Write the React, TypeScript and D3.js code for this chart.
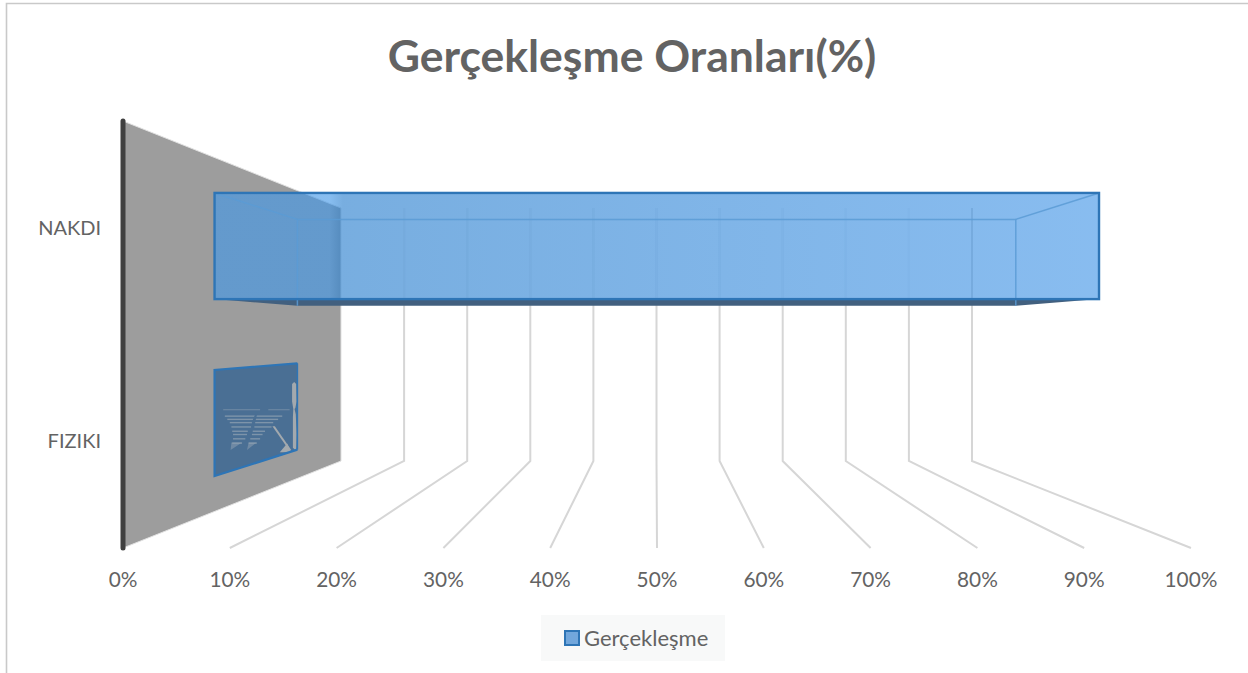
import React from "react";
import * as d3 from "d3";

const title = "Gerçekleşme Oranları(%)";
const seriesName = "Gerçekleşme";
const categories = ["NAKDI", "FIZIKI"];
const values = [100, 0];
const ticks = [0, 10, 20, 30, 40, 50, 60, 70, 80, 90, 100];

// Projection of the 3D box: value, depth and height each go through a d3 scale.
const xFront = d3.scaleLinear().domain([0, 100]).range([123, 1191]);
const xBack = d3.scaleLinear().domain([0, 100]).range([341, 972]);
const yTop = d3.scaleLinear().domain([0, 1]).range([121, 208]);
const yBottom = d3.scaleLinear().domain([0, 1]).range([548, 461]);
const band = d3.scaleBand<string>().domain(categories).range([0, 1]).paddingInner(0.4).paddingOuter(0.2);
const D_FRONT = 0.42;
const D_BACK = 0.8;

const X = (v: number, d: number) => xFront(v) + (xBack(v) - xFront(v)) * d;
const Y = (h: number, d: number) => yTop(d) + (yBottom(d) - yTop(d)) * h;
const P = (v: number, h: number, d: number): [number, number] => [X(v, d), Y(h, d)];
const poly = d3.line();
const closed = (pts: [number, number][]) => poly(pts) + "Z";

// Light glitch marks inside the FIZIKI side face, as fractions of that face.
const gU = d3.scaleLinear().domain([0, 1]).range([215, 297]);
const gV = d3.scaleLinear().domain([0, 1]).range([369, 477]);
const stripeV = [0.37, 0.43, 0.46, 0.49, 0.53, 0.57, 0.6, 0.64, 0.68];
const stripeA0 = [0.1, 0.12, 0.15, 0.18, 0.2, 0.21, 0.22, 0.22, 0.21];
const stripeA1 = [0.55, 0.82, 0.77, 0.45, 0.44, 0.4, 0.39, 0.37, 0.33];
const stripeB0 = [0.65, 0.82, 0.77, 0.49, 0.48, 0.46, 0.45, 0.43, 0.41];
const stripeB1 = [0.91, 0.82, 0.77, 0.71, 0.69, 0.61, 0.58, 0.55, 0.51];
const sliverA: [number, number][] = [[0.2, 0.68], [0.33, 0.68], [0.19, 0.75]];
const sliverB: [number, number][] = [[0.41, 0.68], [0.51, 0.68], [0.39, 0.75]];
const splitA: [number, number][] = [[0.45, 0.49], [0.49, 0.49], [0.52, 0.4], [0.5, 0.4]];
const diag: [number, number][] = [[0.7, 0.53], [0.73, 0.53], [0.93, 0.75], [0.91, 0.76]];
const wedge: [number, number][] = [[0.79, 0.77], [0.88, 0.69], [0.93, 0.77]];
const pill: [number, number][] = [[0.94, 0.14], [0.965, 0.12], [0.99, 0.14], [0.995, 0.3], [0.98, 0.36], [0.97, 0.37], [0.985, 0.42], [0.995, 0.6], [0.99, 0.76], [0.95, 0.73], [0.95, 0.45], [0.955, 0.37], [0.94, 0.3]];
const gP = (pts: [number, number][]) => closed(pts.map(([u, v]) => [gU(u), gV(v)] as [number, number]));

const FONT = "Lato, 'Open Sans', sans-serif";
const TEXT = "#636363";
const gridInBar = d3.interpolateRgb("rgb(120,173,223)", "rgb(136,188,240)");

export default function App() {
  return (
    <svg width={1248} height={673} style={{ position: "absolute", left: 0, top: 0, background: "#fff" }} fontFamily={FONT}>
      <defs>
        <linearGradient id="barFill" x1="0" x2="1" y1="0" y2="0">
          <stop offset="0" stopColor="rgb(67,152,232)" />
          <stop offset="0.13" stopColor="rgb(67,152,232)" />
          <stop offset="0.145" stopColor="rgb(42,127,206)" />
          <stop offset="1" stopColor="rgb(68,150,231)" />
        </linearGradient>
      </defs>
      <path d="M6.5,673V3.5H1248" fill="none" stroke="#c9c9c9" strokeWidth={1.6} />
      <text x={632} y={72} textAnchor="middle" fontSize={44.5} fontWeight={700} fill={TEXT}>{title}</text>

      {/* gridlines: back wall and floor */}
      {ticks.slice(1).map((t) => (
        <path key={t} d={poly([P(t, 0, 1), P(t, 1, 1), P(t, 1, 0)]) as string} fill="none" stroke="#d6d6d6" strokeWidth={2} />
      ))}

      {/* side wall */}
      <path d={closed([P(0, 0, 0), P(0, 0, 1), P(0, 1, 1), P(0, 1, 0)])} fill="#9d9d9d" stroke="#e2e2e2" strokeWidth={1} />
      <line x1={xFront(0)} x2={xFront(0)} y1={yTop(0)} y2={yBottom(0)} stroke="#404040" strokeWidth={5} strokeLinecap="round" />

      {/* bars */}
      {categories.map((c, i) => {
        const h0 = band(c)!;
        const h1 = h0 + band.bandwidth();
        const v = values[i];
        if (v === 0) {
          return (
            <g key={c}>
              <path d={closed([P(0, h0, D_FRONT), P(0, h0, D_BACK), P(0, h1, D_BACK), P(0, h1, D_FRONT)])} fill="#4a6f94" />
              <g fill="#93a4b3" stroke="none">
                {stripeV.map((sv, k) => (
                  <g key={k}>
                    <rect x={gU(stripeA0[k])} width={gU(stripeA1[k]) - gU(stripeA0[k])} y={gV(sv)} height={1.4} opacity={k === 0 ? 0.4 : 0.7} />
                    {stripeB1[k] > stripeB0[k] && (
                      <rect x={gU(stripeB0[k])} width={gU(stripeB1[k]) - gU(stripeB0[k])} y={gV(sv)} height={1.4} opacity={k === 0 ? 0.4 : 0.7} />
                    )}
                  </g>
                ))}
                <path d={gP(sliverA)} opacity={0.5} />
                <path d={gP(sliverB)} opacity={0.5} />
                <path d={gP(splitA)} fill="#4a6f94" />
                <path d={gP(diag)} fill="#a3a9ae" />
                <path d={gP(wedge)} fill="#a3a9ae" />
                <path d={gP(pill)} fill="#a3a9ae" />
              </g>
              <path d={poly([P(0, h1, D_BACK), P(0, h1, D_FRONT), P(0, h0, D_FRONT), P(0, h0, D_BACK)]) as string} fill="none" stroke="#2e75b6" strokeWidth={2.2} />
              <path d={poly([P(0, h0, D_BACK), P(0, h1, D_BACK)]) as string} fill="none" stroke="#2e75b6" strokeWidth={1.5} />
            </g>
          );
        }
        return (
          <g key={c}>
            <path d={closed([P(0, h1, D_FRONT), P(0, h1, D_BACK), P(v, h1, D_BACK), P(v, h1, D_FRONT)])} fill="#42607f" />
            <rect x={X(0, D_FRONT)} y={Y(h0, D_FRONT)} width={X(v, D_FRONT) - X(0, D_FRONT)} height={Y(h1, D_FRONT) - Y(h0, D_FRONT)} fill="url(#barFill)" fillOpacity={0.635} />
            {ticks.slice(1, -1).map((t) => (
              <line key={t} x1={xBack(t)} x2={xBack(t)} y1={yTop(1)} y2={Y(h1, D_FRONT) - 1} stroke={gridInBar(t / 100)} strokeWidth={2.2} strokeOpacity={0.7} />
            ))}
            <path d={poly([P(0, h1, D_BACK), P(0, h0, D_BACK), P(v, h0, D_BACK), P(v, h1, D_BACK)]) as string} fill="none" stroke="#5b9bd5" strokeOpacity={0.85} strokeWidth={1.5} />
            {[0, v].map((e) => (
              <line key={e} x1={X(e, D_FRONT)} y1={Y(h0, D_FRONT)} x2={X(e, D_BACK)} y2={Y(h0, D_BACK)} stroke="#5b9bd5" strokeOpacity={0.85} strokeWidth={1.5} />
            ))}
            <rect x={X(0, D_FRONT)} y={Y(h0, D_FRONT)} width={X(v, D_FRONT) - X(0, D_FRONT)} height={Y(h1, D_FRONT) - Y(h0, D_FRONT)} fill="none" stroke="#2e75b6" strokeWidth={2.4} />
          </g>
        );
      })}

      {/* axis labels */}
      {ticks.map((t) => (
        <text key={t} x={xFront(t)} y={587} textAnchor="middle" fontSize={20.8} fill={TEXT}>{t}%</text>
      ))}
      {categories.map((c) => {
        const h = band(c)! + band.bandwidth() / 2;
        return (
          <text key={c} x={101} y={Y(h, 0) + 7} textAnchor="end" fontSize={20} fill={TEXT}>{c}</text>
        );
      })}

      {/* legend */}
      <rect x={541} y={615} width={184} height={46} fill="#f8f9f9" />
      <rect x={565} y={631} width={14} height={14} fill="#72a7dc" stroke="#2e75b6" strokeWidth={2} />
      <text x={584} y={646} fontSize={22} fill={TEXT}>{seriesName}</text>
    </svg>
  );
}
